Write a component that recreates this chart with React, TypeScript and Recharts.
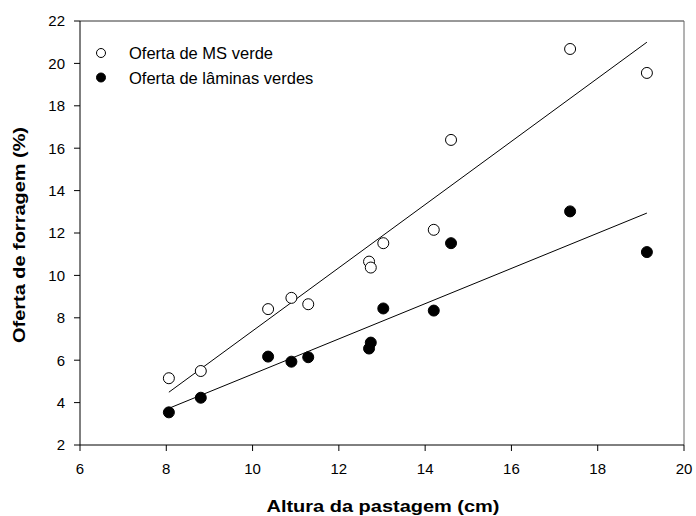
import { ComposedChart, Scatter, Line, XAxis, YAxis, ReferenceLine, Label } from 'recharts'

const altura = [8.06, 8.8, 10.36, 10.9, 11.29, 12.7, 12.74, 13.03, 14.2, 14.6, 17.36, 19.14]
const ofertaMS = [5.15, 5.49, 8.41, 8.94, 8.64, 10.65, 10.37, 11.52, 12.15, 16.39, 20.68, 19.55]
const ofertaLaminas = [3.54, 4.23, 6.17, 5.93, 6.14, 6.55, 6.83, 8.44, 8.34, 11.52, 13.02, 11.1]

// regression line ends
const fitX = [8.06, 19.14]
const fitMS = [4.49, 21.0]
const fitLaminas = [3.73, 12.94]

const xTicks = [6, 8, 10, 12, 14, 16, 18, 20]
const yTicks = [2, 4, 6, 8, 10, 12, 14, 16, 18, 20, 22]

const msData = altura.map((x, i) => ({ x, y: ofertaMS[i] }))
const laminasData = altura.map((x, i) => ({ x, y: ofertaLaminas[i] }))
const msLine = fitX.map((x, i) => ({ x, y: fitMS[i] }))
const laminasLine = fitX.map((x, i) => ({ x, y: fitLaminas[i] }))

const font = '"Liberation Sans", Arial, sans-serif'

const openDot = (p: any) => <circle cx={p.cx} cy={p.cy} r={5.5} fill="#fff" stroke="#000" strokeWidth={1} />
const fullDot = (p: any) => <circle cx={p.cx} cy={p.cy} r={5.5} fill="#000" stroke="#000" strokeWidth={1} />

function LegendBox() {
  const rows = [
    { label: 'Oferta de MS verde', fill: '#fff' },
    { label: 'Oferta de lâminas verdes', fill: '#000' },
  ]
  return (
    <svg width={280} height={50} style={{ position: 'absolute', left: 92, top: 42 }}>
      {rows.map((r, i) => (
        <g key={r.label}>
          <circle cx={9} cy={11 + i * 24.5} r={4.5} fill={r.fill} stroke="#000" strokeWidth={1} />
          <text x={37} y={17 + i * 24.5} fontSize={16.5} fontFamily={font} fill="#000">{r.label}</text>
        </g>
      ))}
    </svg>
  )
}

export default function App() {
  return (
    <div style={{ position: 'absolute', left: 0, top: 0, width: 696, height: 516, background: '#fff' }}>
      <ComposedChart width={696} height={516} margin={{ top: 21, right: 12, bottom: 0, left: 0 }}>
        <XAxis
          type="number"
          dataKey="x"
          domain={[6, 20]}
          ticks={xTicks}
          interval={0}
          allowDataOverflow
          tickSize={6}
          tickMargin={12}
          stroke="#000"
          tick={{ fill: '#000', fontSize: 15, fontFamily: font }}
          height={71}
        >
          <Label
            content={() => (
              <text x={383} y={512} textAnchor="middle" fontSize={17} fontWeight="bold" fontFamily={font} fill="#000" textLength={233} lengthAdjust="spacingAndGlyphs">
                Altura da pastagem (cm)
              </text>
            )}
          />
        </XAxis>
        <YAxis
          type="number"
          dataKey="y"
          domain={[2, 22]}
          ticks={yTicks}
          interval={0}
          allowDataOverflow
          tickSize={6}
          tickMargin={9}
          width={80}
          stroke="#000"
          tick={{ fill: '#000', fontSize: 15, fontFamily: font }}
        >
          <Label
            content={() => (
              <text x={25} y={235} transform="rotate(-90 25 235)" textAnchor="middle" fontSize={17} fontWeight="bold" fontFamily={font} fill="#000" textLength={216} lengthAdjust="spacingAndGlyphs">
                Oferta de forragem (%)
              </text>
            )}
          />
        </YAxis>
        <ReferenceLine y={22} stroke="#333" strokeWidth={1} />
        <ReferenceLine x={20} stroke="#666" strokeWidth={1} />
        <Line data={msLine} dataKey="y" stroke="#000" strokeWidth={1} dot={false} activeDot={false} isAnimationActive={false} legendType="none" />
        <Line data={laminasLine} dataKey="y" stroke="#000" strokeWidth={1} dot={false} activeDot={false} isAnimationActive={false} legendType="none" />
        <Scatter data={msData} dataKey="y" shape={openDot} isAnimationActive={false} />
        <Scatter data={laminasData} dataKey="y" shape={fullDot} isAnimationActive={false} />
      </ComposedChart>
      <LegendBox />
    </div>
  )
}
